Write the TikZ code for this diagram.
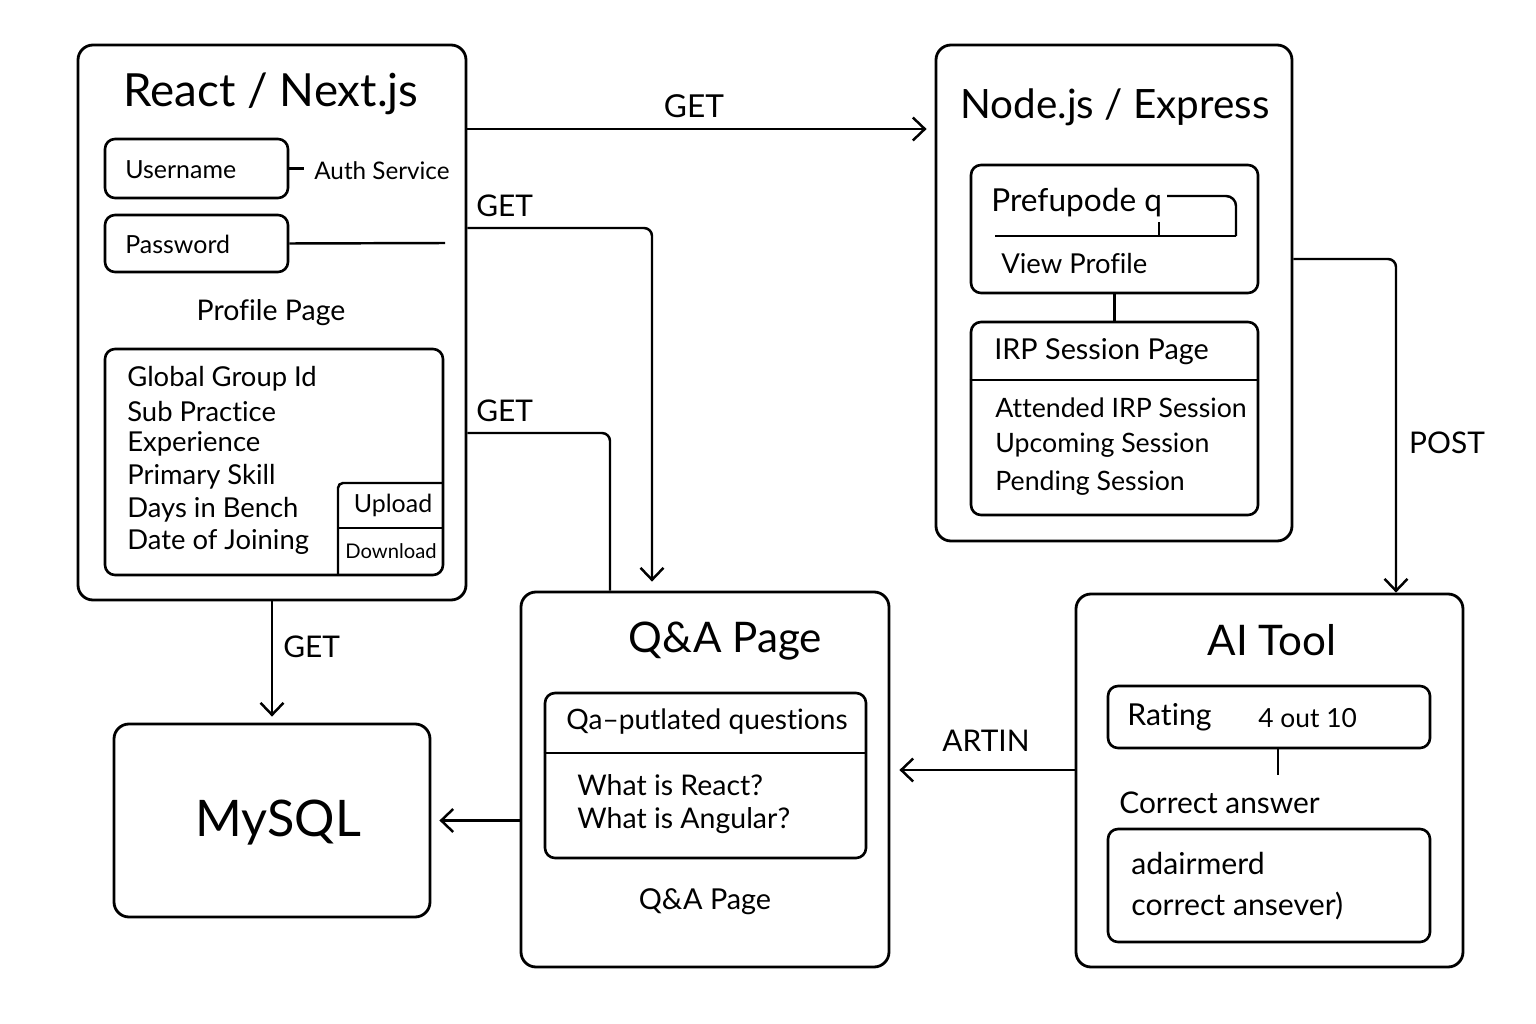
\documentclass[tikz,border=0pt]{standalone}
\usepackage{fontspec}
\setmainfont{Lato}[Ligatures=NoCommon]
\usetikzlibrary{calc,arrows.meta,positioning,fit}
\tikzset{
  panel/.style   = {draw=black, line width=1.6pt, rounded corners=0.3cm, inner sep=0pt},
  card/.style    = {draw=black, line width=1.5pt, rounded corners=0.2cm, inner sep=0pt},
  conn/.style    = {black, line width=1.4pt, rounded corners=0.16cm, -{Straight Barb[length=2.4mm,width=4.6mm]}},
  link/.style    = {black, line width=1.4pt},
  txt/.style     = {inner sep=0pt, font=\fontsize{15.6}{18}\selectfont},
  smalltxt/.style= {inner sep=0pt, font=\fontsize{14.2}{17}\selectfont},
  bigtxt/.style  = {inner sep=0pt, font=\fontsize{17.2}{20}\selectfont},
  headlbl/.style = {inner sep=0pt, font=\fontsize{24}{29}\selectfont},
  verb/.style    = {inner sep=0pt, font=\fontsize{17}{20}\selectfont}
}
\begin{document}
\begin{tikzpicture}[x=0.02cm, y=-0.02cm]
    \useasboundingbox (0,0) rectangle (1536,1024);

    % ----- React / Next.js -----
    \node[panel, fit={(78,45) (466,600)}] (react) {};
    \node[headlbl, font=\fontsize{26}{31}\selectfont] (reactT) at (271,94) {React / Next.js};
    \node[card, fit={(105,139) (288,198)}] (user) {};
    \node[smalltxt, anchor=west] (userT) at (125,170) {Username};
    \node[smalltxt, font=\fontsize{13.8}{16}\selectfont, anchor=west] (auth) at (314,171) {Auth Service};
    \draw[link, shorten >=0.2cm] (user.east) -- (user.east -| auth.west);
    \node[card, fit={(105,215) (288,272)}] (pass) {};
    \node[smalltxt, anchor=west] (passT) at (125,244) {Password};
    \coordinate (passEnd) at (445,243);
    \draw[link] (pass.east) -- (passEnd);
    \node[txt, font=\fontsize{16.2}{19}\selectfont] (profT) at (271,313) {Profile Page};
    \node[card, fit={(105,349) (443,575)}] (profile) {};
    \foreach \item [count=\i] in {Global Group Id, Sub Practice, Experience,
                                  Primary Skill, Days in Bench, Date of Joining}{
      \node[txt, anchor=west] (pf\i) at (127,{346.4+\i*32.6}) {\item};
    }
    % upload / download corner
    \draw[link, rounded corners=0.1cm] (338,575) -- (338,483) -- (443,483);
    \draw[link] (338,528) -- (443,528);
    \node[inner sep=0pt, font=\fontsize{14.2}{17}\selectfont] (upT) at (393,505) {Upload};
    \node[inner sep=0pt, font=\fontsize{11.5}{14}\selectfont] (downT) at (391,551) {Download};

    % ----- Node.js / Express -----
    \node[panel, fit={(936,45) (1292,541)}] (express) {};
    \node[headlbl, font=\fontsize{23}{28}\selectfont] (expressT) at (1115,107) {Node.js / Express};
    \node[card, fit={(971,165) (1258,293)}] (pref) {};
    \node[bigtxt, font=\fontsize{18}{21}\selectfont, anchor=west] (prefT) at (991,203) {Prefupode\ q};
    \draw[link] (995,236) -- (1236,236);
    \draw[link, rounded corners=0.2cm] (1236,236) -- (1236,196) -- (1167,196);
    \draw[link] (1159,222) -- (1159,236);
    \node[txt, anchor=west] (viewT) at (1001,264) {View Profile};
    \node[card, fit={(971,322) (1258,515)}] (irp) {};
    \draw[link] (pref.south) -- (irp.north);
    \coordinate (irpDiv) at (0,380);
    \draw[link] (irp.west |- irpDiv) -- (irp.east |- irpDiv);
    \node[txt, font=\fontsize{16.4}{19}\selectfont, anchor=west] (irpT) at (994,352) {IRP Session Page};
    \foreach \item [count=\i] in {Attended IRP Session, Upcoming Session, Pending Session}{
      \node[txt, font=\fontsize{15.2}{18}\selectfont, anchor=west] (irp\i) at (995,{370.5+\i*37.5}) {\item};
    }

    % ----- Q&A Page -----
    \node[panel, fit={(521,592) (889,967)}] (qa) {};
    \node[headlbl] (qaT) at (725,641) {Q\&A Page};
    \node[card, fit={(545,693) (866,858)}] (qlist) {};
    \coordinate (qDiv) at (0,753);
    \draw[link] (qlist.west |- qDiv) -- (qlist.east |- qDiv);
    \node[bigtxt, font=\fontsize{16}{19}\selectfont] (qlistT) at (707,722) {Qa–putlated questions};
    \node[txt, font=\fontsize{16.2}{19}\selectfont, anchor=west] (q1) at (577,785) {What is React?};
    \node[txt, font=\fontsize{16.2}{19}\selectfont, anchor=west] (q2) at (577,821) {What is Angular?};
    \node[txt, font=\fontsize{16.4}{19}\selectfont] (qaFoot) at (705,902) {Q\&A Page};

    % ----- MySQL -----
    \node[panel, fit={(114,724) (430,917)}] (mysql) {};
    \node[inner sep=0pt, font=\fontsize{28.7}{34}\selectfont] (mysqlT) at (278,823) {MySQL};

    % ----- AI Tool -----
    \node[panel, fit={(1076,594) (1463,967)}] (ai) {};
    \node[headlbl] (aiT) at (1272,640) {AI Tool};
    \node[card, fit={(1108,686) (1430,748)}] (rating) {};
    \node[bigtxt, anchor=west] (ratingT) at (1127,717) {Rating};
    \node[txt, font=\fontsize{15}{18}\selectfont, anchor=west] (scoreT) at (1258,718) {4 out 10};
    \coordinate (rateX) at (1278,0);
    \coordinate (rateEnd) at (1278,775);
    \draw[link] (rating.south -| rateX) -- (rateEnd);
    \node[bigtxt, font=\fontsize{17}{20}\selectfont, anchor=west] (corrT) at (1119,803) {Correct answer};
    \node[card, fit={(1108,829) (1430,942)}] (answer) {};
    \node[bigtxt, anchor=west] (ans1) at (1131,863) {adairmerd};
    \node[bigtxt, anchor=west] (ans2) at (1131,906) {correct\ ansever)};

    % ----- Connectors -----
    \coordinate (getA) at (0,129);
    \draw[conn, shorten >=0.16cm] (react.east |- getA) -- (express.west |- getA);
    \node[verb, font=\fontsize{18}{21}\selectfont] (getAT) at (694,106) {GET};

    \coordinate (getB) at (0,228);
    \coordinate (qaB) at (652,0);
    \draw[conn, shorten >=0.18cm] (react.east |- getB) -| (qa.north -| qaB);
    \node[verb, anchor=west] (getBT) at (476,206) {GET};

    \coordinate (getC) at (0,433);
    \coordinate (qaC) at (610,0);
    \draw[link, rounded corners=0.16cm] (react.east |- getC) -| (qa.north -| qaC);
    \node[verb, anchor=west] (getCT) at (476,411) {GET};

    \draw[conn, shorten >=0.12cm] (react.south) -- (mysql.north);
    \node[verb, anchor=west] (getDT) at (283,647) {GET};

    \draw[conn, shorten >=0.16cm] (qa.west |- mysql.east) -- (mysql.east);

    \coordinate (artin) at (0,770);
    \draw[conn, shorten >=0.18cm] (ai.west |- artin) -- (qa.east |- artin);
    \node[verb] (artinT) at (986,741) {ARTIN};

    \coordinate (postY) at (0,259);
    \coordinate (postX) at (1396,0);
    \draw[conn] (express.east |- postY) -| (ai.north -| postX);
    \node[verb] (postT) at (1447,443) {POST};
\end{tikzpicture}
\end{document}
